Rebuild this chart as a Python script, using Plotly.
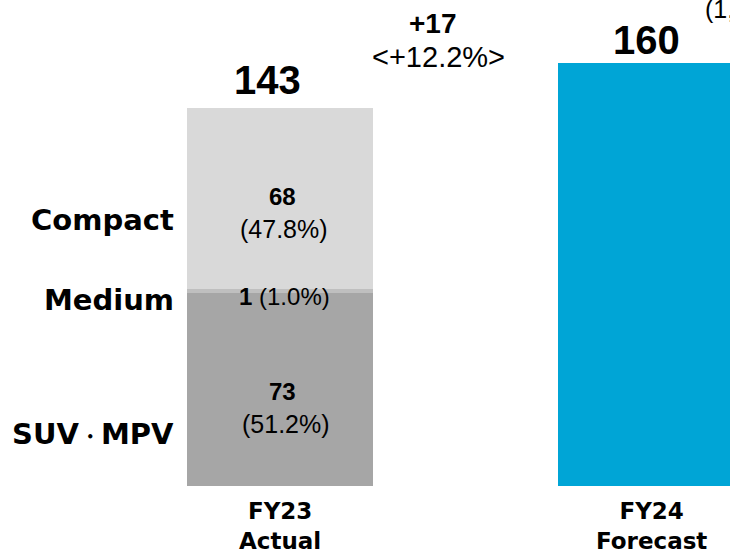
import plotly.graph_objects as go

# ---- data ----
years = ["FY23", "FY24"]
year_sub = ["Actual", "Forecast"]
segments = ["SUV・MPV", "Medium", "Compact"]
segment_values_fy23 = [73.2, 1.4, 68.4]
segment_shown = ["73", "1", "68"]
segment_share = ["51.2%", "1.0%", "47.8%"]
totals = [143, 160]
diff_text = "+17"
diff_pct = "<+12.2%>"
unit_text = "(1,000 units)"

seg_colors = ["#a6a6a6", "#bfbfbf", "#d9d9d9"]
fy24_color = "#00a5d6"

NUM = "Liberation Sans, Arial, sans-serif"
LAB = "DejaVu Sans, Verdana, sans-serif"

fig = go.Figure()
for name, val, col in zip(segments, segment_values_fy23, seg_colors):
    fig.add_trace(go.Bar(x=[0], y=[val], name=name, marker=dict(color=col, line=dict(width=0)),
                         width=0.5, hoverinfo="skip"))
fig.add_trace(go.Bar(x=[1], y=[totals[1]], name="FY24", marker=dict(color=fy24_color, line=dict(width=0)),
                     width=0.5, hoverinfo="skip"))

ppu = 486 / 183.85  # pixels per unit (for label placement)

def ydat(py):
    return (486 - py) / ppu

def label_html(name):
    # narrower middle dot, as in the reference
    return "<b>" + name.replace("・", "<span style='font-size:22px'>・</span>") + "</b>"

ann = []
# category labels on the left
for name, py in zip(segments, [434, 300, 220]):
    ann.append(dict(x=-0.25, y=ydat(py), xref="x", yref="y", text=label_html(name), showarrow=False,
                    xanchor="right", yanchor="middle", xshift=-11,
                    font=dict(family=LAB, size=29, color="black")))
# segment values
seg_font_b = dict(family=NUM, size=24, color="black")
seg_font = dict(family=NUM, size=25, color="black")
ann.append(dict(x=0, y=ydat(196), xshift=2, text=f"<b>{segment_shown[2]}</b>", showarrow=False,
                font=seg_font_b, yanchor="middle"))
ann.append(dict(x=0, y=ydat(229), xshift=4, text=f"({segment_share[2]})", showarrow=False,
                font=seg_font, yanchor="middle"))
ann.append(dict(x=0, y=ydat(296), xshift=4, text=f"<b>{segment_shown[1]}</b> ({segment_share[1]})", showarrow=False,
                font=seg_font_b, yanchor="middle"))
ann.append(dict(x=0, y=ydat(391), xshift=2, text=f"<b>{segment_shown[0]}</b>", showarrow=False,
                font=seg_font_b, yanchor="middle"))
ann.append(dict(x=0, y=ydat(424), xshift=6, text=f"({segment_share[0]})", showarrow=False,
                font=seg_font, yanchor="middle"))
# totals
for i, (t, xs, ys) in enumerate(zip(totals, [-13, -5], [28, 23.5])):
    ann.append(dict(x=i, y=t, text=f"<b>{t}</b>", showarrow=False, yanchor="middle", yshift=ys, xshift=xs,
                    font=dict(family=NUM, size=40, color="black")))
# difference
ann.append(dict(x=(433 - 280) / 371, y=ydat(23), text=f"<b>{diff_text}</b>", showarrow=False,
                yanchor="middle", font=dict(family=NUM, size=28, color="black")))
ann.append(dict(x=(438 - 280) / 371, y=ydat(57), text=diff_pct, showarrow=False,
                yanchor="middle", font=dict(family=NUM, size=29, color="black")))
# unit (cut off at the top-right edge, as in the reference)
ann.append(dict(x=703 / 730, y=1 - 9 / 486, xref="paper", yref="paper", text=unit_text, showarrow=False,
                xanchor="left", yanchor="middle", font=dict(family=NUM, size=25, color="black")))
# x labels
for i, (yv, sub) in enumerate(zip(years, year_sub)):
    ann.append(dict(x=i, y=0, text=f"<b>{yv}</b><br><b>{sub}</b>", showarrow=False, yanchor="top",
                    yshift=-10, font=dict(family=LAB, size=23, color="black")))

fig.update_layout(
    width=730, height=552,
    margin=dict(l=0, r=0, t=0, b=66),
    barmode="stack",
    showlegend=False,
    plot_bgcolor="white", paper_bgcolor="white",
    xaxis=dict(range=[-280 / 371, -280 / 371 + 730 / 371], visible=False, fixedrange=True),
    yaxis=dict(range=[0, 183.85], visible=False, fixedrange=True),
    annotations=ann,
)
fig.write_html("out.html", config={"displayModeBar": False},
               post_script="document.body.style.margin='0';document.body.style.overflow='hidden';")
